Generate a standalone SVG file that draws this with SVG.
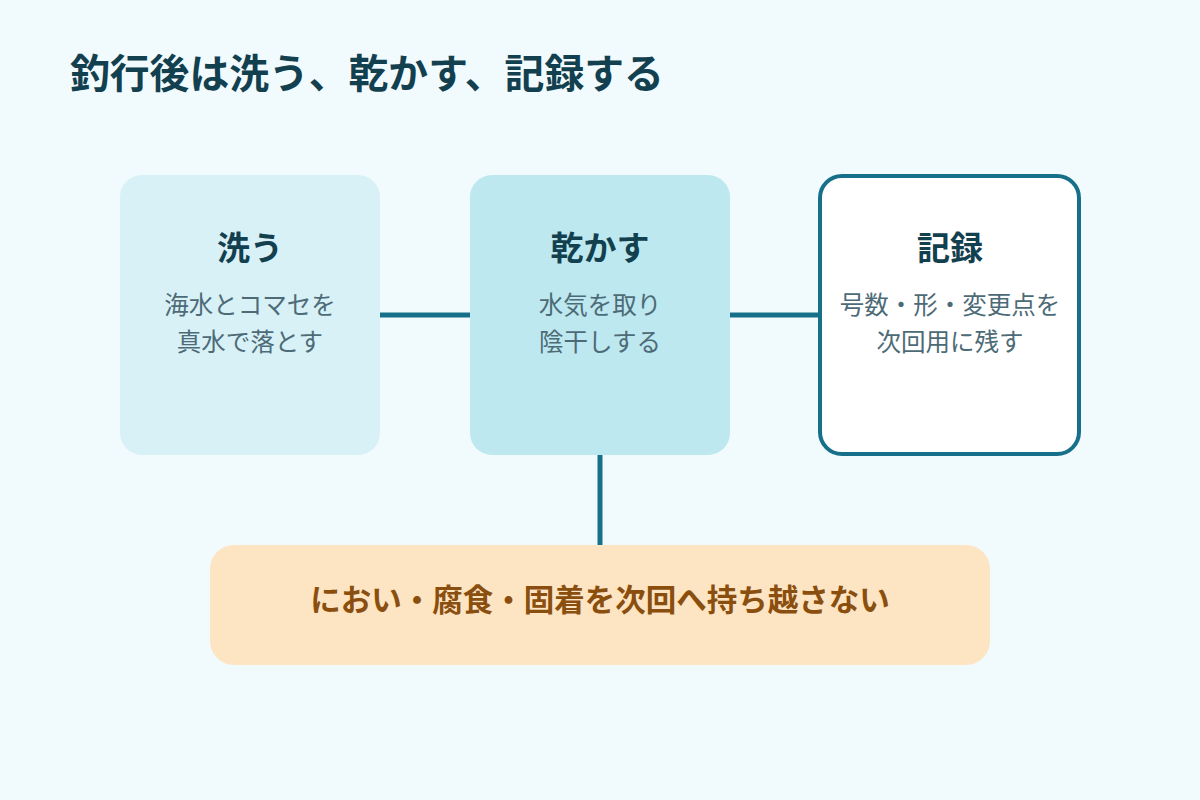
<svg xmlns="http://www.w3.org/2000/svg" width="1200" height="800" viewBox="0 0 1200 800">
<style>
text{font-family:"Noto Sans CJK JP","Noto Sans",sans-serif;text-anchor:middle}
.title{font-size:39.8px;font-weight:700;fill:#12404f;text-anchor:start}
.h{font-size:33px;font-weight:700;fill:#12404f}
.b{font-size:24.5px;fill:#4d6b77}
.bot{font-size:30.5px;font-weight:700;fill:#8a4f0e}
.con{stroke:#17708a;stroke-width:5;fill:none}
</style>
<rect width="1200" height="800" fill="#f1fafd"/>
<text class="title" x="70" y="88">釣行後は洗う、乾かす、記録する</text>
<g id="connectors">
<line class="con" x1="380" y1="315" x2="470" y2="315"/>
<line class="con" x1="730" y1="315" x2="820" y2="315"/>
<line class="con" x1="600" y1="455" x2="600" y2="545"/>
</g>
<g id="wash">
<rect x="120" y="175" width="260" height="280" rx="22" fill="#d8f1f7"/>
<text class="h" x="250" y="260">洗う</text>
<text class="b" x="250" y="314">海水とコマセを</text>
<text class="b" x="250" y="351">真水で落とす</text>
</g>
<g id="dry">
<rect x="470" y="175" width="260" height="280" rx="22" fill="#bde8ef"/>
<text class="h" x="600" y="260">乾かす</text>
<text class="b" x="600" y="314">水気を取り</text>
<text class="b" x="600" y="351">陰干しする</text>
</g>
<g id="record">
<rect x="820" y="176" width="259" height="278" rx="22" fill="#ffffff" stroke="#17708a" stroke-width="4"/>
<text class="h" x="950" y="260">記録</text>
<text class="b" x="950" y="314">号数・形・変更点を</text>
<text class="b" x="950" y="351">次回用に残す</text>
</g>
<g id="goal">
<rect x="210" y="545" width="780" height="120" rx="24" fill="#fde4c3"/>
<text class="bot" x="600" y="611">におい・腐食・固着を次回へ持ち越さない</text>
</g>
</svg>
